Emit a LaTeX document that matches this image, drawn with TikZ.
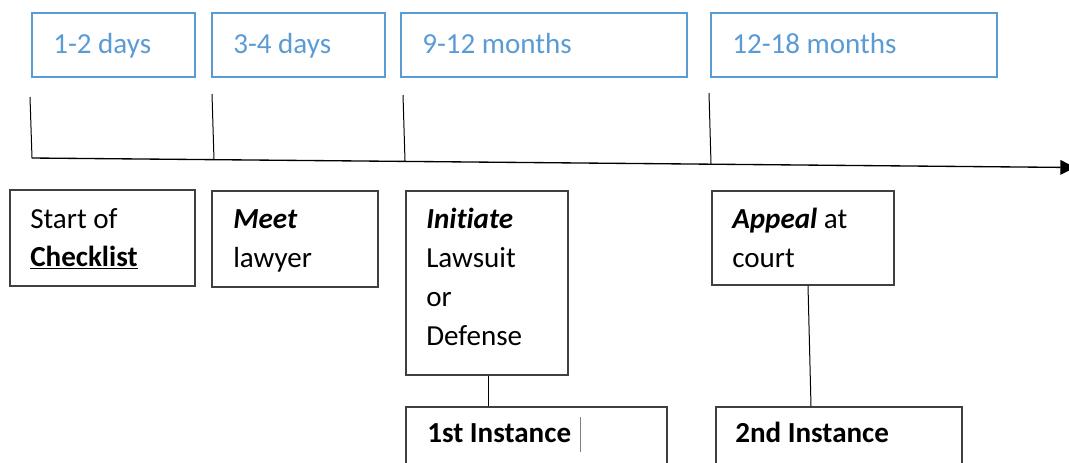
\documentclass[tikz,border=0pt]{standalone}
\usepackage{fontspec}
\setmainfont{Carlito}[Ligatures={NoCommon}]
\usetikzlibrary{arrows.meta,fit}
\definecolor{offblue}{RGB}{91,155,213}
\definecolor{boxgray}{RGB}{64,64,64}
\begin{document}
\begin{tikzpicture}[x=0.75pt,y=-0.75pt,
  bluebox/.style={draw=offblue,line width=1.5pt,inner sep=0pt},
  blackbox/.style={draw=boxgray,line width=0.9pt,inner sep=0pt},
  bluetxt/.style={text=offblue,inner sep=0pt,anchor=base west,font=\fontsize{21.8}{29}\selectfont},
  txt/.style={text=black,inner sep=0pt,anchor=base west,font=\fontsize{21.8}{29}\selectfont},
  tick/.style={draw=black,line width=0.75pt},
  axis/.style={draw=black,line width=1pt,-{Triangle[length=11pt,width=11pt]}},
  link/.style={draw=black,line width=0.75pt}]
\useasboundingbox (0,0) rectangle (1069,462);
\clip (0,0) rectangle (1069,462);
% top blue boxes
\node[bluebox,fit={(32,13) (195,77)}] (b1) {};
\node[bluebox,fit={(212,13) (385,77)}] (b2) {};
\node[bluebox,fit={(401,13) (687,77)}] (b3) {};
\node[bluebox,fit={(711,13) (997,77)}] (b4) {};
\node[bluetxt] (b1t) at (53,53) {1-2 days};
\node[bluetxt] (b2t) at (233,53) {3-4 days};
\node[bluetxt] (b3t) at (422,53) {9-12 months};
\node[bluetxt] (b4t) at (732,53) {12-18 months};
% timeline
\coordinate (t0) at (32,158);
\coordinate (tend) at (1075,167.5);
\coordinate (k1) at (30,97);
\coordinate (k1b) at (32,158);
\coordinate (k2) at (212,94);
\coordinate (k2b) at (214,160);
\coordinate (k3) at (403,95);
\coordinate (k3b) at (405,161);
\coordinate (k4) at (709,93);
\coordinate (k4b) at (711,164);
\draw[tick] (k1) -- (k1b);
\draw[tick] (k2) -- (k2b);
\draw[tick] (k3) -- (k3b);
\draw[tick] (k4) -- (k4b);
\draw[axis] (t0) -- (tend);
% black boxes
\node[blackbox,fit={(10,190) (195,286)}] (a) {};
\node[blackbox,fit={(212,191) (378,287)}] (b) {};
\node[blackbox,fit={(406,191) (568,375)}] (c) {};
\node[blackbox,fit={(406,407) (667,520)}] (d) {};
\node[blackbox,fit={(712,191) (894,285)}] (e) {};
\node[blackbox,fit={(716,407) (962,520)}] (f) {};
% texts
\node[txt] (a1) at (30,228) {Start of};
\node[txt] (a2) at (30,266) {\underline{\textbf{Checklist}}};
\node[txt] (bb1) at (233,228) {\textbf{\textit{Meet}}};
\node[txt] (bb2) at (233,267) {lawyer};
\node[txt] (c1) at (426,228) {\textbf{\textit{Initiate}}};
\node[txt] (c2) at (426,267) {Lawsuit};
\node[txt] (c3) at (426,306) {or};
\node[txt] (c4) at (426,345) {Defense};
\node[txt] (e1) at (732,228) {\textbf{\textit{Appeal}} at};
\node[txt] (e2) at (732,267) {court};
\node[txt] (d1) at (427,442) {\textbf{1st Instance}};
\node[txt] (f1) at (735,442) {\textbf{2nd Instance}};
% cursor mark
\coordinate (cur1) at (580,417);
\coordinate (cur2) at (580,452);
\draw[gray,line width=0.6pt] (cur1) -- (cur2);
% connectors
\draw[link] (c.south -| 488,0) -- (d.north -| 488,0);
\draw[link] (e.south -| 808,0) -- (f.north -| 811,0);
\end{tikzpicture}
\end{document}
